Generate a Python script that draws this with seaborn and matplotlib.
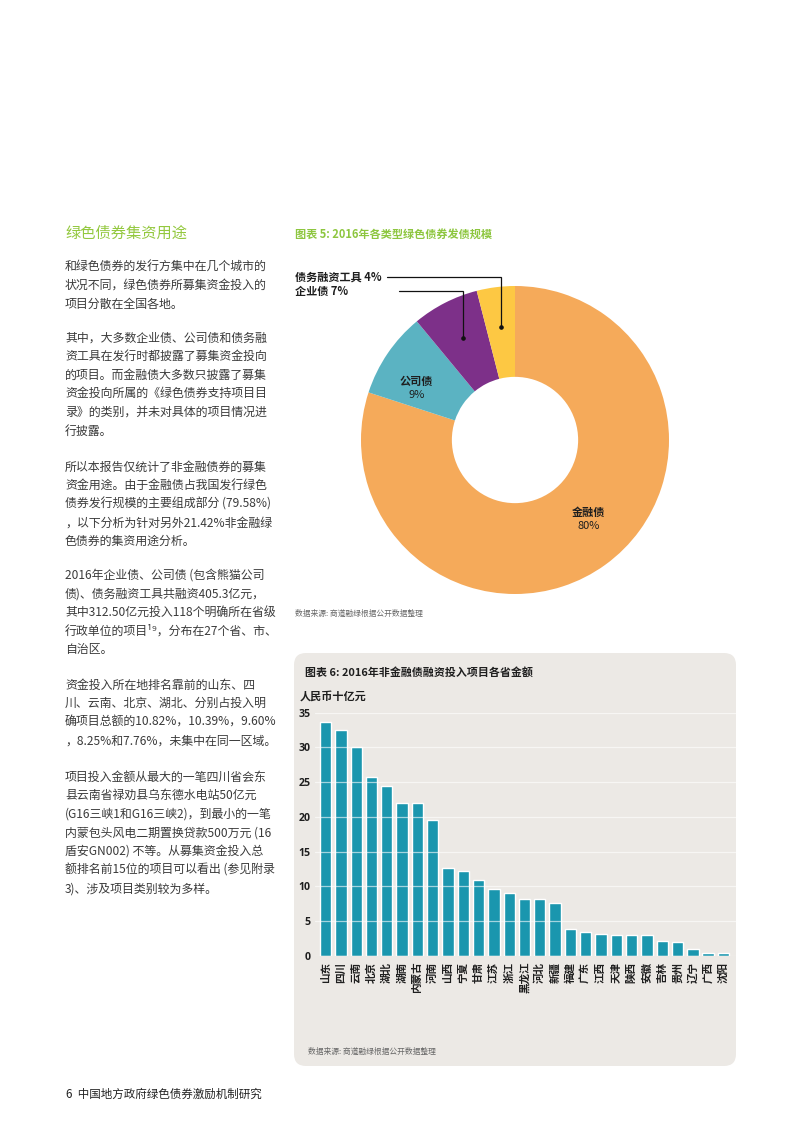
import numpy as np
import pandas as pd
import matplotlib
matplotlib.use("Agg")
import matplotlib.pyplot as plt
from matplotlib.patches import FancyBboxPatch
import seaborn as sns

# ---------------- data ----------------
bond_types = ["金融债", "公司债", "企业债", "债务融资工具"]
bond_shares = [80, 9, 7, 4]
bond_colors = ["#F5AA5A", "#5BB3C2", "#7D3089", "#FDC843"]

provinces = ["山东", "四川", "云南", "北京", "湖北", "湖南", "内蒙古", "河南", "山西",
             "宁夏", "甘肃", "江苏", "浙江", "黑龙江", "河北", "新疆", "福建", "广东",
             "江西", "天津", "陕西", "安徽", "吉林", "贵州", "辽宁", "广西", "沈阳"]
amounts = [33.6, 32.5, 30.0, 25.8, 24.4, 22.0, 22.0, 19.6, 12.6,
           12.2, 11.0, 9.7, 9.0, 8.2, 8.2, 7.6, 3.85, 3.45,
           3.15, 3.0, 3.0, 3.0, 2.2, 2.05, 1.05, 0.45, 0.4]
y_ticks = [0, 5, 10, 15, 20, 25, 30, 35]

heading = "绿色债券集资用途"
paragraphs = [
    ["和绿色债券的发行方集中在几个城市的",
     "状况不同，绿色债券所募集资金投入的",
     "项目分散在全国各地。"],
    ["其中，大多数企业债、公司债和债务融",
     "资工具在发行时都披露了募集资金投向",
     "的项目。而金融债大多数只披露了募集",
     "资金投向所属的《绿色债券支持项目目",
     "录》的类别，并未对具体的项目情况进",
     "行披露。"],
    ["所以本报告仅统计了非金融债券的募集",
     "资金用途。由于金融债占我国发行绿色",
     "债券发行规模的主要组成部分 (79.58%)",
     "，以下分析为针对另外21.42%非金融绿",
     "色债券的集资用途分析。"],
    ["2016年企业债、公司债 (包含熊猫公司",
     "债)、债务融资工具共融资405.3亿元，",
     "其中312.50亿元投入118个明确所在省级",
     "行政单位的项目¹⁹，分布在27个省、市、",
     "自治区。"],
    ["资金投入所在地排名靠前的山东、四",
     "川、云南、北京、湖北、分别占投入明",
     "确项目总额的10.82%，10.39%，9.60%",
     "，8.25%和7.76%，未集中在同一区域。"],
    ["项目投入金额从最大的一笔四川省会东",
     "县云南省禄劝县乌东德水电站50亿元",
     "(G16三峡1和G16三峡2)，到最小的一笔",
     "内蒙包头风电二期置换贷款500万元 (16",
     "盾安GN002) 不等。从募集资金投入总",
     "额排名前15位的项目可以看出 (参见附录",
     "3)、涉及项目类别较为多样。"],
]
chart5_title = "图表 5: 2016年各类型绿色债券发债规模"
chart6_title = "图表 6: 2016年非金融债融资投入项目各省金额"
unit_label = "人民币十亿元"
source_text = "数据来源: 商道融绿根据公开数据整理"
footer = "6  中国地方政府绿色债券激励机制研究"

# ---------------- style ----------------
sns.set_style("white")
plt.rcParams['font.family'] = ['Noto Sans CJK SC', 'DejaVu Sans']

W, H = 802, 1133
fig = plt.figure(figsize=(W / 100, H / 100), dpi=100)
fig.patch.set_facecolor("white")


def fx(x):
    return x / W


def fy(y):
    return 1 - y / H


def txt(x, y, s, **kw):
    kw.setdefault("va", "center")
    kw.setdefault("ha", "left")
    return fig.text(fx(x), fy(y), s, **kw)


GREEN = "#8DC63F"
BODY = "#3A3A3A"

# ---------------- left text column ----------------
txt(65, 233, heading, fontsize=11, color="#93C83E")
para_starts = [267, 338, 467, 575, 685, 777]
line_gap = 18.6
for start, lines in zip(para_starts, paragraphs):
    for i, line in enumerate(lines):
        txt(65, start + i * line_gap, line, fontsize=8.6, color=BODY)

# ---------------- donut chart ----------------
txt(295, 234, chart5_title, fontsize=8, color=GREEN, fontweight="bold")

cx, cy, R = 515, 440, 154
ax_p = fig.add_axes([fx(cx - R), fy(cy + R), 2 * R / W, 2 * R / H])
ax_p.pie(bond_shares, colors=bond_colors, startangle=90, counterclock=False,
         wedgeprops=dict(width=0.59, linewidth=0), radius=1)
ax_p.set_xlim(-1, 1)
ax_p.set_ylim(-1, 1)
ax_p.axis("off")

# mid angles of the wedges (degrees, counter-clockwise from +x)
fr = np.array(bond_shares, dtype=float) / np.sum(bond_shares)
ends = 90 - 360 * np.cumsum(fr)
starts = ends + 360 * fr
mids = np.deg2rad((starts + ends) / 2)

# in-wedge labels
txt(416.7, 381, "公司债", fontsize=8, color="#1E1E1E", ha="center", fontweight="bold")
txt(416.7, 395, "9%", fontsize=8, color="#1E1E1E", ha="center")
txt(588.3, 512.5, "金融债", fontsize=8, color="#1E1E1E", ha="center", fontweight="bold")
txt(588.3, 526, "80%", fontsize=8, color="#1E1E1E", ha="center")

# callouts for the two small wedges
callouts = [(3, 276.7, 386.7, "债务融资工具 4%"), (2, 291.3, 399.3, "企业债 7%")]
for idx, ly, lx, label in callouts:
    r = 0.74
    dx, dy = r * np.cos(mids[idx]), r * np.sin(mids[idx])
    ly_d = (cy - ly) / R
    lx_d = (lx - cx) / R
    ax_p.plot([dx, dx, lx_d], [dy, ly_d, ly_d], color="#111111", lw=0.9,
              clip_on=False, solid_joinstyle="miter")
    ax_p.plot([dx], [dy], "o", color="#111111", ms=2.3, clip_on=False)
    txt(295, ly, label, fontsize=8, color="#1E1E1E", fontweight="bold")

txt(295, 614, source_text, fontsize=5.6, color="#666666")

# ---------------- bar chart panel ----------------
panel = FancyBboxPatch((294 / 100, (H - 1066) / 100), (736 - 294) / 100, (1066 - 653) / 100,
                       boxstyle="round,pad=0,rounding_size=0.12",
                       transform=fig.dpi_scale_trans, facecolor="#ECE9E5",
                       edgecolor="none", zorder=-1)
fig.add_artist(panel)

txt(305, 672.5, chart6_title, fontsize=7.9, color="#1E1E1E", fontweight="bold")
txt(300, 696, unit_label, fontsize=8, color="#1E1E1E", fontweight="bold")

ax_b = fig.add_axes([fx(315), fy(956), (736 - 315) / W, (956 - 712.7) / H])
ax_b.set_facecolor("none")
df = pd.DataFrame({"province": provinces, "amount": amounts})
sns.barplot(data=df, x="province", y="amount", color="#1A96AE", saturation=1,
            width=0.74, ax=ax_b, zorder=1)
ax_b.set_xlim(-0.69, 26.82)
ax_b.set_ylim(0, 35)
ax_b.set_yticks(y_ticks)
ax_b.set_yticklabels([str(t) for t in y_ticks], fontsize=7.6, fontweight="bold",
                     color="#1E1E1E", family=["Open Sans", "DejaVu Sans"])
ax_b.set_xticks(range(len(provinces)))
ax_b.set_xticklabels(provinces, fontsize=7.6, rotation=90, color="#1E1E1E",
                     ha="center", va="top", fontweight="bold")
ax_b.tick_params(axis="both", length=0)
ax_b.tick_params(axis="y", pad=3)
ax_b.tick_params(axis="x", pad=4)
ax_b.set_xlabel("")
ax_b.set_ylabel("")
for s in ax_b.spines.values():
    s.set_visible(False)
ax_b.set_axisbelow(False)
ax_b.yaxis.grid(True, color="white", lw=0.9, alpha=0.6)
ax_b.xaxis.grid(False)

txt(308, 1052, source_text, fontsize=5.6, color="#666666")

# ---------------- footer ----------------
txt(66, 1094, footer, fontsize=8.3, color="#222222")

fig.savefig("out.png", dpi=100, facecolor="white")
